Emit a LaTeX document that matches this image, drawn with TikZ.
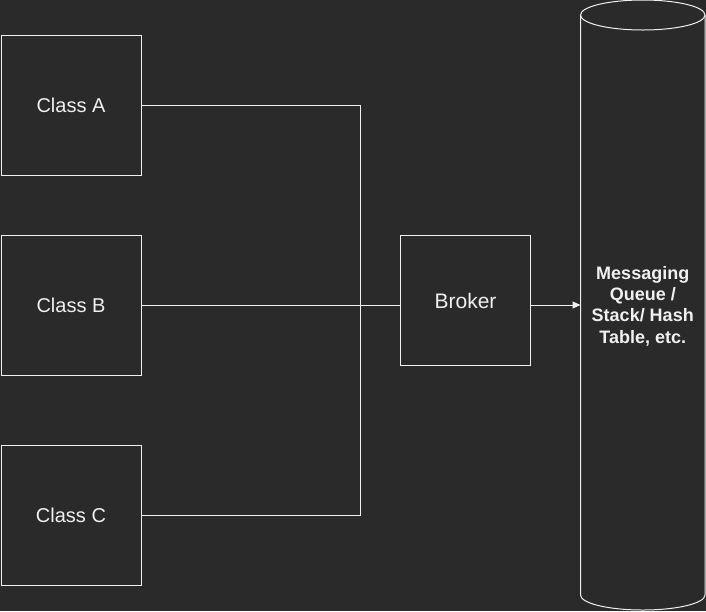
\documentclass[tikz,border=0pt]{standalone}
\usepackage{fontspec}
\setmainfont{Liberation Sans}
\usetikzlibrary{arrows.meta}
\definecolor{bg}{HTML}{2A2A2A}
\definecolor{fg}{HTML}{F0F0F0}
\begin{document}
\begin{tikzpicture}[x=1pt,y=-1pt,
  box/.style={draw=fg,line width=1pt,fill=bg,text=fg,font=\fontsize{20}{24}\selectfont},
  wire/.style={draw=fg,line width=1pt},
  arr/.style={wire,-{Triangle[length=8pt,width=7pt]}}]
\useasboundingbox[fill=bg] (0,0) rectangle (706,611);
\node[box,minimum width=140pt,minimum height=140pt,anchor=north west] (a) at (0.5,35) {Class A};
\node[box,minimum width=140pt,minimum height=140pt,anchor=north west] (b) at (0.5,235) {Class B};
\node[box,minimum width=140pt,minimum height=140pt,anchor=north west] (c) at (0.5,445) {Class C};
\node[box,minimum width=130pt,minimum height=130pt,anchor=north west,font=\fontsize{21}{25}\selectfont] (k) at (400,235) {Broker};
\coordinate (j) at (360,305);
% cylinder
\draw[wire,fill=bg] (580.5,15) -- (580.5,595) arc[start angle=180,end angle=0,x radius=62.25,y radius=15] -- (705,15);
\draw[wire,fill=bg] (642.75,15) ellipse[x radius=62.25,y radius=15];
\node[text=fg,font=\bfseries\fontsize{18}{21.3}\selectfont,align=center] (q) at (642.75,306) {Messaging\\Queue /\\Stack/ Hash\\Table, etc.};
\coordinate (qin) at (580.5,305);
\draw[wire] (a.east) -| (j);
\draw[wire] (c.east) -| (j);
\draw[wire] (b.east) -- (k.west |- b.east);
\draw[arr] (k.east |- qin) -- (qin);
\end{tikzpicture}
\end{document}
